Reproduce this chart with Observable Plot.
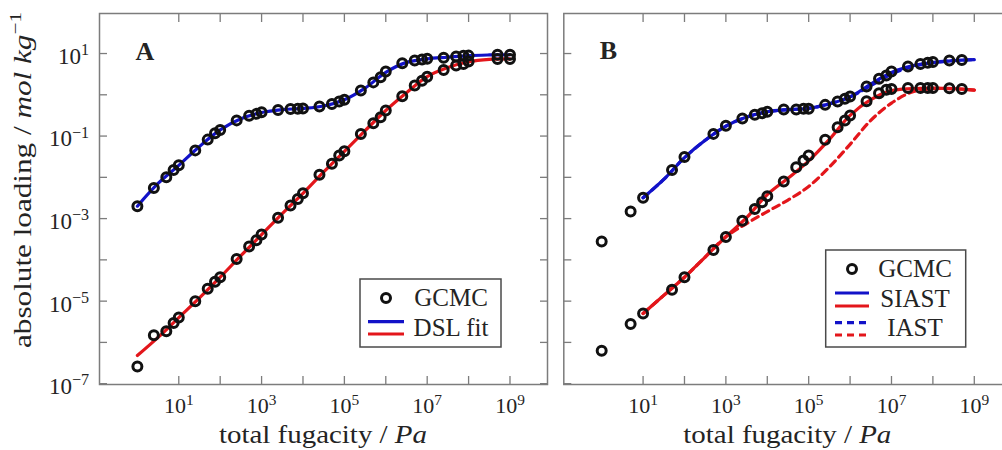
<!DOCTYPE html>
<html>
<head>
<meta charset="utf-8">
<script src="https://cdn.jsdelivr.net/npm/d3@7"></script>
<script src="https://cdn.jsdelivr.net/npm/@observablehq/plot@0.6"></script>
<style>
  html, body { margin: 0; padding: 0; background: #fff; overflow: hidden; }
  #wrap { position: relative; width: 1002px; height: 450px; overflow: hidden; }
  #wrap svg { position: absolute; left: 0; top: 0; overflow: visible; max-width: none !important; }
</style>
</head>
<body>
<div id="wrap"></div>
<script>
// ---- Panel A: single-component isotherms (GCMC points, dual-site Langmuir fits) ----
const pressureA = [1, 2.5, 5, 7.5, 10, 25, 50, 75, 100, 250, 500, 750, 1e3, 2.5e3, 5e3, 7.5e3,
  1e4, 2.5e4, 5e4, 7.5e4, 1e5, 2.5e5, 5e5, 7.5e5, 1e6, 2.5e6, 5e6, 7.5e6, 1e7, 2.5e7, 5e7, 7.5e7,
  1e8, 5e8, 1e9];
const gcmcA_blue = [2.0e-3, 5.5e-3, 1.0e-2, 1.5e-2, 1.95e-2, 4.5e-2, 0.082, 0.117, 0.14, 0.24, 0.31,
  0.345, 0.38, 0.43, 0.45, 0.457, 0.465, 0.52, 0.60, 0.685, 0.755, 1.27, 2.0, 2.66, 3.66, 5.8, 6.8,
  7.2, 7.45, 7.9, 8.5, 8.8, 8.9, 9.3, 9.3];
const gcmcA_red = [2.6e-7, 1.5e-6, 1.86e-6, 2.95e-6, 4.0e-6, 9.9e-6, 2.0e-5, 2.95e-5, 3.8e-5, 1.05e-4,
  2.1e-4, 3.0e-4, 4.1e-4, 1.05e-3, 2.07e-3, 3.0e-3, 4.1e-3, 0.0115, 0.0214, 0.034, 0.043, 0.112,
  0.204, 0.286, 0.417, 0.92, 1.67, 2.2, 2.75, 4.0, 5.1, 5.6, 6.4, 7.4, 7.4];

const fitPressureA = [1, 3.16, 10, 31.6, 100, 316, 1e3, 3.16e3, 1e4, 3.16e4, 1e5, 3.16e5, 1e6,
  3.16e6, 1e7, 3.16e7, 1e8, 3.16e8, 1e9];
const fitA_blue = [2.0e-3, 7.1e-3, 0.0195, 0.056, 0.141, 0.263, 0.372, 0.437, 0.468, 0.537, 0.759,
  1.45, 3.5, 6.1, 7.41, 8.13, 8.91, 9.23, 9.33];
const fitA_red = [4.8e-7, 1.32e-6, 4.0e-6, 1.2e-5, 3.8e-5, 1.26e-4, 4.07e-4, 1.32e-3, 4.07e-3,
  0.0135, 0.0427, 0.135, 0.417, 1.12, 2.75, 4.57, 6.31, 7.24, 7.41];

// ---- Panel B: mixture loadings (GCMC points, SIAST and IAST predictions) ----
const pressureB = [1, 5, 10, 50, 100, 500, 1e3, 2.5e3, 5e3, 7.5e3, 1e4, 2.5e4, 5e4, 7.5e4, 1e5,
  2.5e5, 5e5, 7.5e5, 1e6, 2.5e6, 5e6, 7.5e6, 1e7, 2.5e7, 5e7, 7.5e7, 1e8, 2.5e8, 5e8];
const gcmcB_blue = [2.8e-4, 1.48e-3, 3.2e-3, 0.015, 0.031, 0.113, 0.177, 0.265, 0.33, 0.357, 0.39,
  0.44, 0.44, 0.457, 0.457, 0.57, 0.685, 0.80, 0.91, 1.58, 2.44, 2.93, 3.66, 4.84, 5.6, 5.96, 6.2,
  6.8, 7.0];
const gcmcB_red = [6.3e-7, 2.8e-6, 5.0e-6, 1.9e-5, 3.8e-5, 1.74e-4, 3.6e-4, 8.9e-4, 1.72e-3, 2.5e-3,
  3.47e-3, 7.9e-3, 0.0175, 0.0255, 0.0337, 0.081, 0.163, 0.238, 0.314, 0.70, 1.09, 1.32, 1.39, 1.47,
  1.47, 1.47, 1.47, 1.45, 1.39];

const fitPressureB = [10, 31.6, 100, 316, 1e3, 3.16e3, 1e4, 3.16e4, 1e5, 3.16e5, 1e6, 3.16e6, 1e7,
  3.16e7, 1e8, 3.16e8, 1e9];
const siastB_blue = [3.2e-3, 8.9e-3, 0.030, 0.079, 0.174, 0.288, 0.389, 0.437, 0.468, 0.603, 0.891,
  1.82, 3.47, 5.01, 6.03, 6.76, 7.1];
const iastB_blue = [3.2e-3, 8.9e-3, 0.030, 0.079, 0.174, 0.288, 0.389, 0.437, 0.468, 0.603, 0.891,
  1.66, 3.16, 4.79, 6.03, 6.76, 7.1];
const siastB_red = [5.0e-6, 1.38e-5, 3.8e-5, 1.17e-4, 3.63e-4, 1.05e-3, 3.8e-3, 9.5e-3, 0.0251,
  0.083, 0.316, 0.759, 1.26, 1.41, 1.45, 1.41, 1.3];
const iastB_red = [5.0e-6, 1.38e-5, 3.8e-5, 1.17e-4, 3.63e-4, 7.6e-4, 1.48e-3, 2.82e-3, 6.0e-3,
  0.0178, 0.063, 0.24, 0.63, 1.17, 1.41, 1.41, 1.3];

// ---- Axis ticks ----
const xTickExponents = [1, 2, 3, 4, 5, 6, 7, 8, 9];
const xLabelExponents = [1, 3, 5, 7, 9];
const yTickExponents = [-7, -6, -5, -4, -3, -2, -1, 0, 1];
const yLabelExponents = [-7, -5, -3, -1, 1];

const BLUE = "#1212c8";
const RED = "#e3161b";
const INK = "#242424";
const FRAME = "#7c7c7c";
const SERIF = '"Liberation Serif", "Times New Roman", serif';

const pow10 = (e) => 10 ** e;
const fmtPow = (d) => {
  const e = Math.round(Math.log10(d));
  return "10^" + (e < 0 ? "\u2212" + (-e) : String(e));
};

const X_DOMAIN = [10 ** -0.915, 10 ** 9.906];
const Y_DOMAIN = [10 ** -7.02, 10 ** 1.97];

function frameMarks() {
  const xt = xTickExponents.map(pow10);
  const yt = yTickExponents.map(pow10);
  return [
    // inward ticks on all four sides
    Plot.axisX(xt, {anchor: "bottom", tickSize: 8, dy: -8, fill: "none", stroke: FRAME, strokeWidth: 1.3, label: null}),
    Plot.axisX(xt, {anchor: "top", tickSize: 8, dy: 8, fill: "none", stroke: FRAME, strokeWidth: 1.3, label: null}),
    Plot.axisY(yt, {anchor: "left", tickSize: 8, dx: 8, fill: "none", stroke: FRAME, strokeWidth: 1.3, label: null}),
    Plot.axisY(yt, {anchor: "right", tickSize: 8, dx: -8, fill: "none", stroke: FRAME, strokeWidth: 1.3, label: null}),
    // tick labels on odd decades
    Plot.axisX(xLabelExponents.map(pow10), {anchor: "bottom", tickSize: 0, tickPadding: 13, tickFormat: fmtPow,
      fontSize: 22, fill: INK, label: null}),
    Plot.frame({stroke: FRAME, strokeWidth: 1.5})
  ];
}

function makePanel({width, marginLeft, marginRight, yLabels, marks}) {
  const extra = yLabels
    ? [Plot.axisY(yLabelExponents.map(pow10), {anchor: "left", tickSize: 0, tickPadding: 10.5, dy: 3,
        tickFormat: fmtPow, fontSize: 23, fill: INK, label: null})]
    : [];
  return Plot.plot({
    width, height: 450,
    marginLeft, marginRight, marginTop: 13, marginBottom: 66,
    style: {fontFamily: SERIF, background: "transparent", overflow: "visible", maxWidth: "none"},
    x: {type: "log", domain: X_DOMAIN},
    y: {type: "log", domain: Y_DOMAIN},
    marks: [...marks, ...frameMarks(), ...extra]
  });
}

const lineStyle = (color, dashed) => ({
  stroke: color, strokeWidth: 3.2, curve: "catmull-rom",
  strokeDasharray: dashed ? "7,5" : null
});
const dotStyle = {r: 4.5, stroke: "#111", strokeWidth: 3, fill: "none"};

const svgA = makePanel({
  width: 1002, marginLeft: 99, marginRight: 1002 - 547, yLabels: true,
  marks: [
    Plot.line(fitPressureA, {x: fitPressureA, y: fitA_blue, ...lineStyle(BLUE)}),
    Plot.line(fitPressureA, {x: fitPressureA, y: fitA_red, ...lineStyle(RED)}),
    Plot.dot(pressureA, {x: pressureA, y: gcmcA_blue, ...dotStyle}),
    Plot.dot(pressureA, {x: pressureA, y: gcmcA_red, ...dotStyle})
  ]
});

const svgB = makePanel({
  width: 1012, marginLeft: 563.3, marginRight: 1012 - 1011.3, yLabels: false,
  marks: [
    Plot.line(fitPressureB, {x: fitPressureB, y: iastB_blue, ...lineStyle(BLUE, true)}),
    Plot.line(fitPressureB, {x: fitPressureB, y: iastB_red, ...lineStyle(RED, true)}),
    Plot.line(fitPressureB, {x: fitPressureB, y: siastB_blue, ...lineStyle(BLUE)}),
    Plot.line(fitPressureB, {x: fitPressureB, y: siastB_red, ...lineStyle(RED)}),
    Plot.dot(pressureB, {x: pressureB, y: gcmcB_blue, ...dotStyle}),
    Plot.dot(pressureB, {x: pressureB, y: gcmcB_red, ...dotStyle})
  ]
});

const wrap = document.getElementById("wrap");
wrap.appendChild(svgA);
wrap.appendChild(svgB);

// Turn "10^e" tick labels into a base with a raised exponent
function raiseExponents(svg) {
  d3.select(svg).selectAll('g[aria-label$="tick label"] text').each(function () {
    const m = /^10\^(.+)$/.exec(this.textContent);
    if (!m) return;
    const t = d3.select(this);
    const size = parseFloat(getComputedStyle(this).fontSize) || 22;
    t.text("10");
    t.append("tspan").attr("dy", -0.38 * size).attr("font-size", 0.7 * size).text(m[1]);
  });
}
raiseExponents(svgA);
raiseExponents(svgB);

// Axis titles
function xTitle(svg, cx) {
  const t = d3.select(svg).append("text")
    .attr("x", cx).attr("y", 443).attr("text-anchor", "middle")
    .attr("font-family", SERIF).attr("font-size", 25).attr("fill", INK)
    .attr("textLength", 208).attr("lengthAdjust", "spacingAndGlyphs");
  t.append("tspan").text("total fugacity / ");
  t.append("tspan").attr("font-style", "italic").text("Pa");
}
xTitle(svgA, 323);
xTitle(svgB, 787.3);

{
  const t = d3.select(svgA).append("text")
    .attr("transform", "translate(31,180) rotate(-90)")
    .attr("text-anchor", "middle")
    .attr("font-family", SERIF).attr("font-size", 25).attr("fill", INK)
    .attr("textLength", 336).attr("lengthAdjust", "spacingAndGlyphs");
  t.append("tspan").text("absolute loading / ");
  t.append("tspan").attr("font-style", "italic").text("mol kg");
  t.append("tspan").attr("dy", -10).attr("font-size", 17).text("\u22121");
}

// Panel letters
d3.select(svgA).append("text").attr("x", 145).attr("y", 60).attr("text-anchor", "middle")
  .attr("font-family", SERIF).attr("font-weight", "bold").attr("font-size", 26).attr("fill", INK).text("A");
d3.select(svgB).append("text").attr("x", 608.5).attr("y", 58.5).attr("text-anchor", "middle")
  .attr("font-family", SERIF).attr("font-weight", "bold").attr("font-size", 26).attr("fill", INK).text("B");

// Legends
const legendA = {
  box: [360, 279, 501, 347], textX: 451, symbolX: [368, 404],
  rows: [
    {kind: "dot", y: 298, baseline: 306, label: "GCMC"},
    {kind: "pair", y: [321.7, 334], baseline: 336, label: "DSL fit", dashed: false}
  ]
};
const legendB = {
  box: [825.7, 250, 965.7, 347], textX: 915, symbolX: [835, 869],
  rows: [
    {kind: "dot", y: 269, baseline: 277, label: "GCMC"},
    {kind: "pair", y: [293, 306], baseline: 306.5, label: "SIAST", dashed: false},
    {kind: "pair", y: [322.7, 335], baseline: 336, label: "IAST", dashed: true}
  ]
};

function drawLegend(svg, L) {
  const g = d3.select(svg).append("g");
  const [x0, y0, x1, y1] = L.box;
  g.append("rect").attr("x", x0).attr("y", y0).attr("width", x1 - x0).attr("height", y1 - y0)
    .attr("fill", "#fff").attr("stroke", "#4a4a4a").attr("stroke-width", 1.5);
  const [sx0, sx1] = L.symbolX;
  for (const r of L.rows) {
    if (r.kind === "dot") {
      g.append("circle").attr("cx", (sx0 + sx1) / 2).attr("cy", r.y).attr("r", dotStyle.r)
        .attr("fill", "none").attr("stroke", dotStyle.stroke).attr("stroke-width", dotStyle.strokeWidth);
    } else {
      [BLUE, RED].forEach((c, i) => {
        g.append("line").attr("x1", sx0).attr("x2", r.dashed ? sx1 - 2 : sx1)
          .attr("y1", r.y[i]).attr("y2", r.y[i]).attr("stroke", c).attr("stroke-width", 3.2)
          .attr("stroke-dasharray", r.dashed ? "7,5" : null);
      });
    }
    g.append("text").attr("x", L.textX).attr("y", r.baseline).attr("text-anchor", "middle")
      .attr("font-family", SERIF).attr("font-size", 25).attr("fill", INK).text(r.label);
  }
}
drawLegend(svgA, legendA);
drawLegend(svgB, legendB);
</script>
</body>
</html>
